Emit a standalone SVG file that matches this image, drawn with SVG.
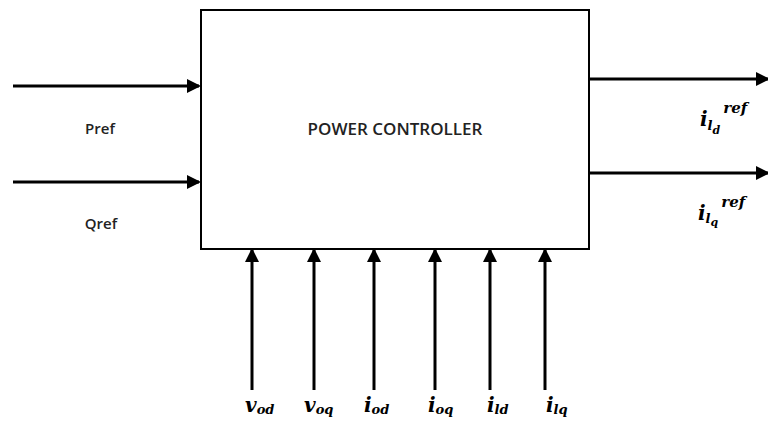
<svg xmlns="http://www.w3.org/2000/svg" width="768" height="423" viewBox="0 0 768 423">
<style>
.ln{stroke:#000;stroke-width:3;fill:none}
.lbl{font-family:"Open Sans","Liberation Sans",sans-serif;font-size:15px;font-weight:600;fill:#222}
.m{font-family:"DejaVu Serif","Liberation Serif",serif;font-style:italic;font-weight:bold;fill:#000}
.mb{font-size:20px}
.ms{font-size:13px}
.mr{font-size:15px}
</style>
<defs>
<marker id="ahs" markerWidth="14" markerHeight="14" refX="12" refY="7" orient="auto" markerUnits="userSpaceOnUse" viewBox="0 0 14 14">
<path d="M0,0 L14,7 L0,14 z" fill="#000"/>
</marker>
</defs>
<rect width="768" height="423" fill="#fff"/>
<g id="controller">
<rect x="201" y="10" width="388" height="239" fill="#fff" stroke="#000" stroke-width="2"/>
<text x="395" y="135" text-anchor="middle" font-family="Open Sans, Liberation Sans, sans-serif" font-size="17" font-weight="600" fill="#222">POWER CONTROLLER</text>
</g>
<g id="connectors">
<line class="ln" x1="13" y1="86" x2="199" y2="86" marker-end="url(#ahs)"/>
<line class="ln" x1="13" y1="182" x2="199" y2="182" marker-end="url(#ahs)"/>
<line class="ln" x1="590" y1="79" x2="768" y2="79" marker-end="url(#ahs)"/>
<line class="ln" x1="590" y1="173" x2="768" y2="173" marker-end="url(#ahs)"/>
<line class="ln" x1="252" y1="390" x2="252" y2="250" marker-end="url(#ahs)"/>
<line class="ln" x1="314" y1="390" x2="314" y2="250" marker-end="url(#ahs)"/>
<line class="ln" x1="374" y1="390" x2="374" y2="250" marker-end="url(#ahs)"/>
<line class="ln" x1="435" y1="390" x2="435" y2="250" marker-end="url(#ahs)"/>
<line class="ln" x1="490" y1="390" x2="490" y2="250" marker-end="url(#ahs)"/>
<line class="ln" x1="545" y1="390" x2="545" y2="250" marker-end="url(#ahs)"/>
</g>
<g id="label-pref"><text class="lbl" x="100" y="134" text-anchor="middle">Pref</text></g>
<g id="label-qref"><text class="lbl" x="101" y="229" text-anchor="middle">Qref</text></g>
<g id="label-ild">
<text class="m mb" x="700" y="126">i<tspan class="ms" dy="4">l</tspan><tspan font-size="11" dy="4">d</tspan><tspan class="mr" dy="-21" dx="3">ref</tspan></text>
</g>
<g id="label-ilq">
<text class="m mb" x="698" y="220">i<tspan class="ms" dy="3">l</tspan><tspan font-size="11" dy="3">q</tspan><tspan class="mr" dy="-19" dx="3">ref</tspan></text>
</g>
<g id="label-bottom">
<text class="m mb" x="245" y="412">v<tspan class="ms" dy="2">od</tspan></text>
<text class="m mb" x="304" y="412">v<tspan class="ms" dy="2">oq</tspan></text>
<text class="m mb" x="364" y="412">i<tspan class="ms" dy="2">od</tspan></text>
<text class="m mb" x="428" y="412">i<tspan class="ms" dy="2">oq</tspan></text>
<text class="m mb" x="487" y="412">i<tspan class="ms" dy="2">ld</tspan></text>
<text class="m mb" x="546" y="412">i<tspan class="ms" dy="2">lq</tspan></text>
</g>
</svg>
